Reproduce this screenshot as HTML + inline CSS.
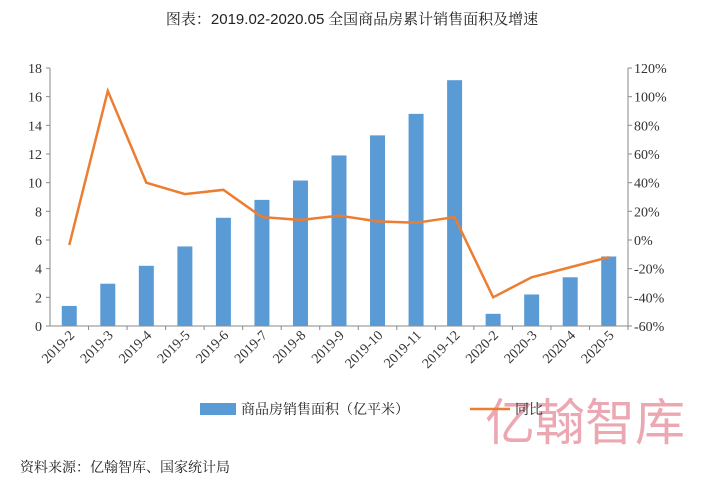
<!DOCTYPE html>
<html><head><meta charset="utf-8"><style>
body{margin:0;background:#fff;width:704px;height:489px;overflow:hidden;font-family:"Liberation Serif","Noto Serif CJK SC",serif;}
</style></head><body>
<svg width="704" height="489" xmlns="http://www.w3.org/2000/svg">
<text x="352" y="24" text-anchor="middle" font-size="15" fill="#222">图表：<tspan font-family="Liberation Sans,sans-serif">2019.02-2020.05</tspan> 全国商品房累计销售面积及增速</text>
<g id="axes"></g>
<g id="bars"></g>
<g id="line"></g>
<text x="585" y="440" text-anchor="middle" font-size="50" fill="#e07080" opacity="0.6" font-family="Noto Sans CJK SC,sans-serif">亿翰智库</text>
<rect x="200" y="403" width="36" height="12" fill="#5b9bd5"/>
<text x="241" y="414" font-size="14" fill="#222">商品房销售面积（亿平米）</text>
<line x1="470" y1="409" x2="510" y2="409" stroke="#ed7d31" stroke-width="2.5"/>
<text x="515" y="414" font-size="14" fill="#222">同比</text>
<text x="20" y="472" font-size="14" fill="#222">资料来源：亿翰智库、国家统计局</text>
</svg>
<script>
const categories=["2019-2","2019-3","2019-4","2019-5","2019-6","2019-7","2019-8","2019-9","2019-10","2019-11","2019-12","2020-2","2020-3","2020-4","2020-5"];
const area=[1.4,2.95,4.2,5.55,7.55,8.8,10.15,11.9,13.3,14.8,17.15,0.85,2.2,3.4,4.85];
const yoy=[-3.5,104,40,32,35,16,14,17,13,12,16,-40,-26,-19,-12];
const leftTicks=[0,2,4,6,8,10,12,14,16,18];
const rightTicks=[-60,-40,-20,0,20,40,60,80,100,120];
const NS="http://www.w3.org/2000/svg";
const X0=50,X1=628,Y0=326,Y1=68;
const step=(X1-X0)/categories.length;
const xc=i=>X0+step*(i+0.5);
const yL=v=>Y0-(v/18)*(Y0-Y1);
const yR=v=>Y0-((v+60)/180)*(Y0-Y1);
function mk(tag,attrs,parent){const e=document.createElementNS(NS,tag);for(const k in attrs)e.setAttribute(k,attrs[k]);parent.appendChild(e);return e;}
const ax=document.getElementById('axes');
let e=mk('line',{x1:X0,y1:Y1,x2:X0,y2:Y0,stroke:'#888'},ax);


e=mk('line',{x1:X1,y1:Y1,x2:X1,y2:Y0,stroke:'#888'},ax);


e=mk('line',{x1:X0,y1:Y0,x2:X1,y2:Y0,stroke:'#888'},ax);


leftTicks.forEach(v=>{const y=yL(v);mk('line',{x1:X0-4,y1:y,x2:X0,y2:y,stroke:'#888'},ax);
const t=mk('text',{x:X0-8,y:y+5,'text-anchor':'end','font-size':14,fill:'#333'},ax);t.textContent=v;

});
rightTicks.forEach(v=>{const y=yR(v);mk('line',{x1:X1,y1:y,x2:X1+4,y2:y,stroke:'#888'},ax);
const t=mk('text',{x:X1+6,y:y+5,'font-size':14,fill:'#333'},ax);t.textContent=v+'%';

});
categories.forEach((c,i)=>{const x=xc(i);mk('line',{x1:X0+step*(i+1),y1:Y0,x2:X0+step*(i+1),y2:Y0+4,stroke:'#888'},ax);
const t=mk('text',{x:x+6,y:Y0+10,'text-anchor':'end','font-size':14,fill:'#333',transform:`rotate(-45 ${x+6} ${Y0+10})`},ax);t.textContent=c;

});
const bg=document.getElementById('bars');
area.forEach((v,i)=>{const r=mk('rect',{x:xc(i)-7.5,y:yL(v),width:15,height:Y0-yL(v),fill:'#5b9bd5'},bg);

});
const p=mk('polyline',{points:yoy.map((v,i)=>xc(i)+','+yR(v)).join(' '),fill:'none',stroke:'#ed7d31','stroke-width':2.5},document.getElementById('line'));


</script>
</body></html>
